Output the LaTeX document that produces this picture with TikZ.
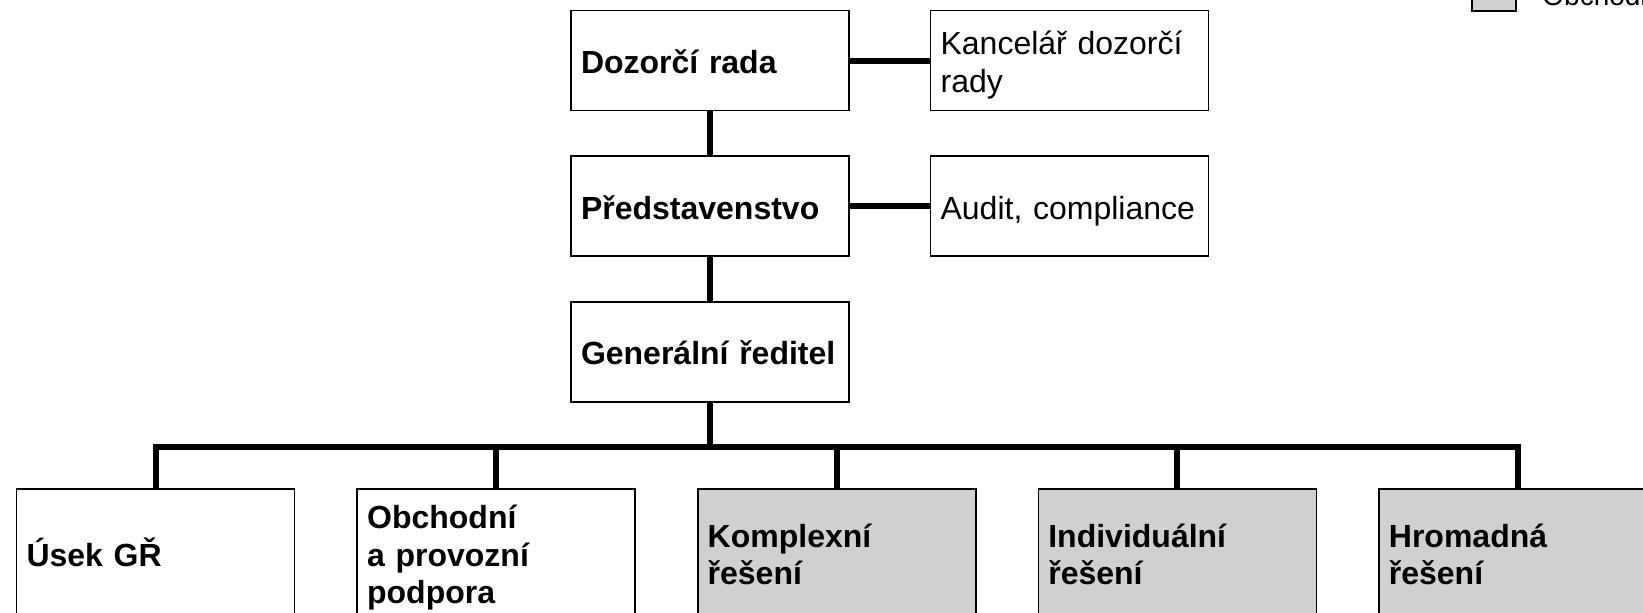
\documentclass[tikz,border=0pt]{standalone}
\usepackage{fontspec}
\setmainfont{Liberation Sans}
\usetikzlibrary{positioning}
\definecolor{salesgray}{RGB}{208,208,208}
\tikzset{node distance=22pt,
    unit/.style={
        draw,
        line width=0.8pt,
        rectangle,
        text width=129pt,
        inner xsep=5pt,
        inner ysep=0pt,
        minimum height=50pt,
        align=left,
        execute at begin node={\rule{0pt}{16.5pt}},
        execute at end node={\rule[-3.5pt]{0pt}{0pt}},
        font=\fontsize{16}{18.6}\selectfont},
    boss/.style={
        unit,
        font=\fontsize{16}{18.6}\selectfont\bfseries},
    division/.style={
        boss,
        minimum height=64pt},
    sales/.style={
        division,
        fill=salesgray},
    link/.style={
        draw,
        line width=3pt}}

\begin{document}
\begin{tikzpicture}[x=0.5pt,y=-0.5pt]
        \clip (0,0) rectangle (1643,612);
        \node[boss] (dr) at (710,60.5) {Dozorčí rada};
        \node[unit,right=40pt of dr] (kdr) {Kancelář dozorčí rady};
        \node[boss,below=of dr] (pred) {Představenstvo};
        \node[unit,right=40pt of pred] (audit) {Audit, compliance};
        \node[boss,below=of pred] (gr) {Generální ředitel};

        \node[division] (usek) at (155.5,553) {Úsek GŘ};
        \node[division,right=30.5pt of usek] (obch) {Obchodní\\a provozní\\podpora};
        \node[sales,right=30.5pt of obch] (kompl) {Komplexní\\řešení};
        \node[sales,right=30.5pt of kompl] (indiv) {Individuální\\řešení};
        \node[sales,right=30.5pt of indiv] (hrom) {Hromadná\\řešení};

        % legend, cut off at the page edge
        \node[draw,line width=0.8pt,fill=salesgray,minimum width=22pt,minimum height=16pt,inner sep=0pt] (key) at (1494,-5) {};
        \node[anchor=base west,inner sep=0pt,font=\fontsize{14}{16}\selectfont] (keytext) at (1542,5) {Obchodní};

        \draw[link] (dr) -- (kdr);
        \draw[link] (pred) -- (audit);
        \draw[link] (dr) -- (pred);
        \draw[link] (pred) -- (gr);
        \draw[link] (gr.south) -- ++(0,-22pt) coordinate (bus);
        \draw[link] (usek.north) |- (bus) -| (hrom.north);
        \foreach \n in {obch,kompl,indiv}
            \draw[link] (\n.north) -- (\n.north |- bus);
    \end{tikzpicture}
\end{document}
